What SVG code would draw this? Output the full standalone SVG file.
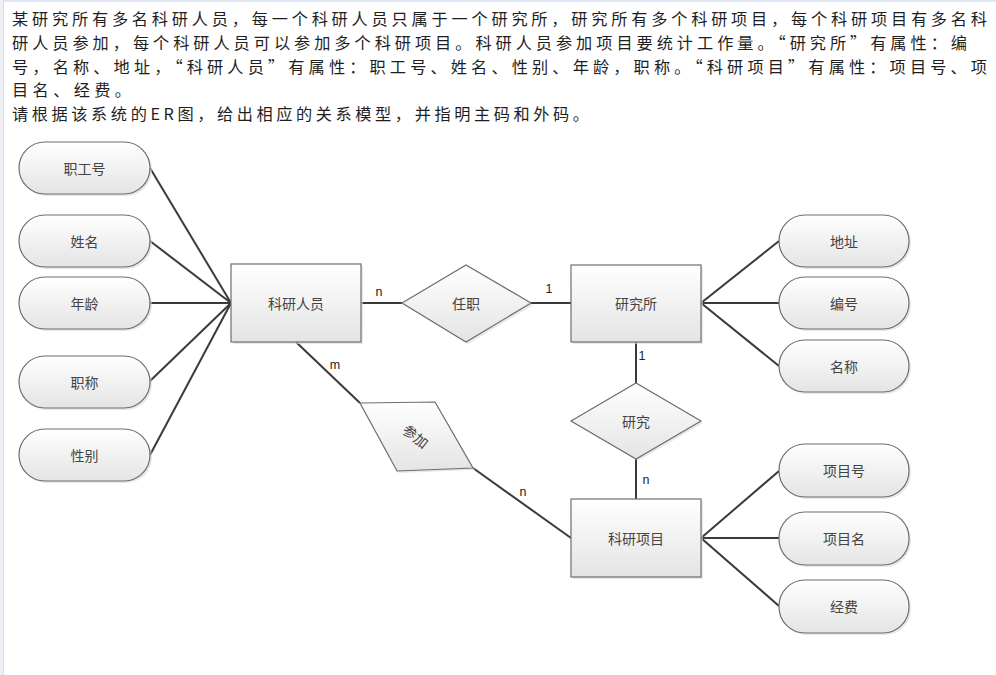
<svg xmlns="http://www.w3.org/2000/svg" width="996" height="675" viewBox="0 0 996 675">
<defs>
<linearGradient id="g" x1="0" y1="0" x2="0" y2="1">
<stop offset="0" stop-color="#ffffff"/>
<stop offset="1" stop-color="#e4e4e4"/>
</linearGradient>
<style>
.q{font-family:"Noto Sans CJK SC","Liberation Serif",serif;font-size:16.2px;fill:#1e1e1e}
.sh{fill:#d9d9d9;opacity:0.6}
.s{fill:url(#g);stroke:#6e6e6e;stroke-width:1.2}
.t{font-family:"Noto Sans CJK SC","Liberation Sans",sans-serif;font-size:14px;fill:#444;text-anchor:middle;dominant-baseline:central}
.c{stroke:#3a3a3a;stroke-width:2;fill:none}
.l{font-family:"Liberation Sans","Noto Sans",sans-serif;font-size:12.5px;fill:#222;text-anchor:middle}
</style>
</defs>
<rect width="996" height="675" fill="#ffffff"/>
<rect x="0" y="0" width="996" height="2" fill="#dfe8f6"/>
<rect x="0" y="0" width="3" height="675" fill="#eef0f5"/>
<line x1="3.5" y1="0" x2="3.5" y2="675" stroke="#d9dce6" stroke-width="1"/>

<g id="question">
<text class="q" x="12" y="25" textLength="975" lengthAdjust="spacing">某研究所有多名科研人员，每一个科研人员只属于一个研究所，研究所有多个科研项目，每个科研项目有多名科</text>
<text class="q" x="12" y="48.5" textLength="955" lengthAdjust="spacing">研人员参加，每个科研人员可以参加多个科研项目。科研人员参加项目要统计工作量。“研究所”有属性：编</text>
<text class="q" x="12" y="72.5" textLength="975" lengthAdjust="spacing">号，名称、地址，“科研人员”有属性：职工号、姓名、性别、年龄，职称。“科研项目”有属性：项目号、项</text>
<text class="q" x="12" y="96" textLength="119" lengthAdjust="spacing">目名、经费。</text>
<text class="q" x="12" y="119.5" textLength="577" lengthAdjust="spacing">请根据该系统的ER图，给出相应的关系模型，并指明主码和外码。</text>
</g>

<g id="connectors">
<line class="c" x1="150" y1="168" x2="231" y2="303"/>
<line class="c" x1="150" y1="241" x2="231" y2="303"/>
<line class="c" x1="150" y1="303" x2="231" y2="303"/>
<line class="c" x1="150" y1="381" x2="231" y2="303"/>
<line class="c" x1="150" y1="455" x2="231" y2="303"/>
<line class="c" x1="361" y1="303" x2="402" y2="303"/>
<line class="c" x1="531" y1="303" x2="571" y2="303"/>
<line class="c" x1="701" y1="303" x2="779" y2="241"/>
<line class="c" x1="701" y1="303" x2="779" y2="303"/>
<line class="c" x1="701" y1="303" x2="779" y2="366"/>
<line class="c" x1="636" y1="342" x2="636" y2="383"/>
<line class="c" x1="636" y1="459" x2="636" y2="499"/>
<line class="c" x1="296" y1="342" x2="360" y2="403"/>
<line class="c" x1="473" y1="468" x2="571" y2="538"/>
<line class="c" x1="701" y1="538" x2="779" y2="471"/>
<line class="c" x1="701" y1="538" x2="779" y2="538"/>
<line class="c" x1="701" y1="538" x2="779" y2="606"/>
<text class="l" x="379" y="296">n</text>
<text class="l" x="549" y="293">1</text>
<text class="l" x="642" y="360">1</text>
<text class="l" x="646" y="484">n</text>
<text class="l" x="335" y="369">m</text>
<text class="l" x="523" y="496">n</text>
</g>

<g id="attr-zhigonghao"><rect class="sh" x="21" y="144" width="131" height="52" rx="26"/><rect class="s" x="19" y="142" width="131" height="52" rx="26"/><text class="t" x="84.5" y="168">职工号</text></g>
<g id="attr-xingming"><rect class="sh" x="21" y="217" width="131" height="52" rx="26"/><rect class="s" x="19" y="215" width="131" height="52" rx="26"/><text class="t" x="84.5" y="241">姓名</text></g>
<g id="attr-nianling"><rect class="sh" x="21" y="279" width="131" height="52" rx="26"/><rect class="s" x="19" y="277" width="131" height="52" rx="26"/><text class="t" x="84.5" y="303">年龄</text></g>
<g id="attr-zhicheng"><rect class="sh" x="21" y="358" width="131" height="52" rx="26"/><rect class="s" x="19" y="356" width="131" height="52" rx="26"/><text class="t" x="84.5" y="382">职称</text></g>
<g id="attr-xingbie"><rect class="sh" x="21" y="431" width="131" height="52" rx="26"/><rect class="s" x="19" y="429" width="131" height="52" rx="26"/><text class="t" x="84.5" y="455">性别</text></g>

<g id="entity-keyanrenyuan"><rect class="sh" x="233" y="266" width="130" height="78"/><rect class="s" x="231" y="264" width="130" height="78"/><text class="t" x="296" y="303">科研人员</text></g>
<g id="rel-renzhi"><polygon class="sh" points="404,305 468,267 533,305 468,344"/><polygon class="s" points="402,303 466,265 531,303 466,342"/><text class="t" x="466" y="303">任职</text></g>
<g id="entity-yanjiusuo"><rect class="sh" x="573" y="267" width="130" height="77"/><rect class="s" x="571" y="265" width="130" height="77"/><text class="t" x="636" y="303">研究所</text></g>
<g id="rel-yanjiu"><polygon class="sh" points="573,423 638,385 703,423 638,461"/><polygon class="s" points="571,421 636,383 701,421 636,459"/><text class="t" x="636" y="421">研究</text></g>
<g id="rel-canjia"><polygon class="sh" points="362,405 437,404 475,470 399,473"/><polygon class="s" points="360,403 435,402 473,468 397,471"/><text class="t" x="416" y="436" transform="rotate(38 416 436)">参加</text></g>
<g id="entity-keyanxiangmu"><rect class="sh" x="573" y="501" width="130" height="78"/><rect class="s" x="571" y="499" width="130" height="78"/><text class="t" x="636" y="538">科研项目</text></g>

<g id="attr-dizhi"><rect class="sh" x="781" y="217" width="130" height="52" rx="26"/><rect class="s" x="779" y="215" width="130" height="52" rx="26"/><text class="t" x="844" y="241">地址</text></g>
<g id="attr-bianhao"><rect class="sh" x="781" y="279" width="130" height="52" rx="26"/><rect class="s" x="779" y="277" width="130" height="52" rx="26"/><text class="t" x="844" y="303">编号</text></g>
<g id="attr-mingcheng"><rect class="sh" x="781" y="342" width="130" height="52" rx="26"/><rect class="s" x="779" y="340" width="130" height="52" rx="26"/><text class="t" x="844" y="366">名称</text></g>
<g id="attr-xiangmuhao"><rect class="sh" x="781" y="446" width="130" height="53" rx="26"/><rect class="s" x="779" y="444" width="130" height="53" rx="26"/><text class="t" x="844" y="470">项目号</text></g>
<g id="attr-xiangmuming"><rect class="sh" x="781" y="514" width="130" height="53" rx="26"/><rect class="s" x="779" y="512" width="130" height="53" rx="26"/><text class="t" x="844" y="538">项目名</text></g>
<g id="attr-jingfei"><rect class="sh" x="781" y="582" width="130" height="53" rx="26"/><rect class="s" x="779" y="580" width="130" height="53" rx="26"/><text class="t" x="844" y="606">经费</text></g>
</svg>
